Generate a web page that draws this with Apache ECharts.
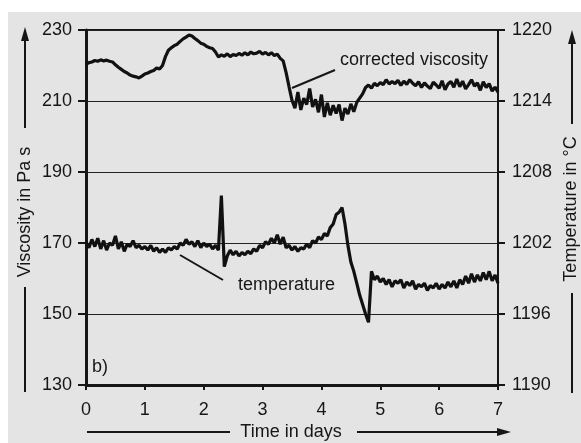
<!DOCTYPE html>
<html>
<head>
<meta charset="utf-8">
<script src="https://cdn.jsdelivr.net/npm/echarts@6/dist/echarts.min.js"></script>
<style>
html,body{margin:0;padding:0;background:#fff;}
#bg{position:absolute;left:8px;top:12px;width:573px;height:431px;background:#e4e4e4;}
#chart{position:absolute;left:0;top:0;width:581px;height:443px;}
</style>
</head>
<body>
<div id="bg"></div>
<div id="chart"></div>
<script>
// ---- data ----
var timeStep = 0.05; // days between readings
var viscosity = [
220.3,220.8,221.0,221.4,221.2,221.6,221.3,221.5,221.2,221.0,
220.2,219.5,218.9,218.3,217.9,217.3,217.0,216.8,216.5,217.0,
217.6,217.9,218.3,218.6,219.3,219.0,220.0,222.5,224.3,225.0,
225.6,226.0,226.8,227.5,228.0,228.6,228.3,227.6,227.0,226.3,
226.0,225.4,225.0,224.8,223.8,222.4,223.0,222.6,223.3,222.5,
223.1,222.8,223.4,222.9,223.6,223.0,223.8,223.3,223.5,224.0,
223.2,223.7,223.0,223.6,222.8,223.2,222.0,221.3,218.0,214.0,
210.2,208.0,212.5,207.5,210.8,209.0,213.5,208.3,210.5,206.8,
211.8,205.5,209.5,206.0,208.8,206.5,209.0,204.5,208.0,206.3,
209.2,207.0,209.6,210.8,212.0,213.8,214.5,213.6,215.0,214.3,
215.2,214.6,216.0,214.8,215.5,214.9,215.8,214.4,215.6,214.7,
216.0,215.0,214.3,215.4,213.8,215.1,214.2,213.5,215.3,214.5,
213.6,215.7,213.2,214.8,215.5,213.9,216.2,214.0,215.6,213.4,
214.6,216.0,214.2,215.1,213.0,215.4,213.8,214.9,212.8,213.9,
212.5
];
var temperature = [
1202.1,1201.6,1202.3,1201.7,1202.4,1201.5,1202.2,1201.4,1202.0,1201.8,
1202.6,1201.5,1202.1,1201.3,1201.9,1201.7,1202.2,1201.6,1201.8,1201.5,
1201.7,1201.4,1201.8,1201.3,1201.6,1201.2,1201.5,1201.2,1201.6,1201.4,
1201.7,1201.5,1202.0,1201.8,1202.3,1201.9,1202.1,1201.7,1202.2,1201.6,
1202.0,1201.7,1201.9,1201.5,1201.8,1201.4,1206.0,1200.0,1200.9,1201.4,
1201.0,1201.3,1200.9,1201.2,1201.0,1201.3,1201.1,1201.5,1201.3,1201.8,
1201.6,1202.1,1201.9,1202.4,1202.0,1202.7,1201.9,1202.5,1201.6,1201.8,
1201.4,1201.7,1201.3,1201.6,1201.5,1201.9,1201.6,1202.2,1202.0,1202.5,
1202.3,1202.8,1202.6,1203.3,1203.6,1204.4,1204.6,1205.0,1203.6,1201.8,
1200.4,1199.6,1198.6,1197.6,1196.8,1196.0,1195.3,1199.6,1198.9,1199.2,
1198.7,1199.0,1198.5,1198.9,1198.3,1198.8,1198.6,1198.9,1198.2,1198.7,
1198.4,1198.8,1198.1,1198.5,1198.3,1198.6,1198.0,1198.4,1198.2,1198.6,
1198.1,1198.5,1198.2,1198.7,1198.3,1198.8,1198.2,1198.9,1198.5,1199.2,
1198.6,1199.4,1198.7,1199.3,1198.8,1199.5,1198.9,1199.6,1198.8,1199.3,
1198.6
];
var xTicks = [0,1,2,3,4,5,6,7];
var viscTicks = [130,150,170,190,210,230];
var tempTicks = [1190,1196,1202,1208,1214,1220];

// ---- build ----
function pairs(arr){ return arr.map(function(v,i){ return [+(i*timeStep).toFixed(2), v]; }); }
var FONT = '"Liberation Sans", Arial, sans-serif';
var INK = '#161616';
var chart = echarts.init(document.getElementById('chart'), null, {renderer:'canvas'});
var lbl = {color: INK, fontSize: 18, fontFamily: FONT, formatter: function(v){ return String(v); }};

function vLine(x,y1,y2){return {type:'line',shape:{x1:x,y1:y1,x2:x,y2:y2},style:{stroke:INK,lineWidth:2},silent:true};}
function hLine(x1,x2,y){return {type:'line',shape:{x1:x1,y1:y,x2:x2,y2:y},style:{stroke:INK,lineWidth:2},silent:true};}
function poly(pts){return {type:'polygon',shape:{points:pts},style:{fill:INK},silent:true};}
function txt(x,y,t,opt){
  var o = {type:'text',x:x,y:y,style:{text:t,fill:INK,font:'18px '+FONT,textAlign:'left',textVerticalAlign:'middle'},silent:true};
  if(opt) for(var k in opt) o[k]=opt[k];
  return o;
}

chart.setOption({
  backgroundColor: 'transparent',
  animation: false,
  grid: {left: 86, right: 83, top: 30, bottom: 58, show: true, borderColor: INK, borderWidth: 2, backgroundColor: 'transparent'},
  xAxis: {
    type: 'value', min: xTicks[0], max: xTicks[xTicks.length-1], interval: 1,
    axisLine: {show: true, lineStyle: {color: INK, width: 3}},
    axisTick: {show: true, inside: false, length: 5, lineStyle: {color: INK, width: 2}},
    axisLabel: Object.assign({margin: 16}, lbl),
    splitLine: {show: false}
  },
  yAxis: [{
    type: 'value', min: viscTicks[0], max: viscTicks[viscTicks.length-1], interval: 20,
    axisLine: {show: true, lineStyle: {color: INK, width: 3}},
    axisTick: {show: true, inside: false, length: 8, lineStyle: {color: INK, width: 2}},
    axisLabel: Object.assign({margin: 14}, lbl),
    splitLine: {show: true, lineStyle: {color: '#222', width: 1}}
  },{
    type: 'value', min: tempTicks[0], max: tempTicks[tempTicks.length-1], interval: 6,
    position: 'right',
    axisLine: {show: true, lineStyle: {color: INK, width: 2}},
    axisTick: {show: true, inside: false, length: 7, lineStyle: {color: INK, width: 2}},
    axisLabel: Object.assign({margin: 14}, lbl),
    splitLine: {show: false}
  }],
  series: [{
    name: 'corrected viscosity', type: 'line', yAxisIndex: 0,
    data: pairs(viscosity), showSymbol: false, smooth: false,
    lineStyle: {color: '#111', width: 3.2}, z: 3
  },{
    name: 'temperature', type: 'line', yAxisIndex: 1,
    data: pairs(temperature), showSymbol: false, smooth: false,
    lineStyle: {color: '#111', width: 3.2}, z: 3
  }],
  graphic: [
    // left axis title with arrow
    vLine(25,128,38), poly([[25,27],[21,41],[29,41]]), vLine(25,287,392),
    txt(25,212,'Viscosity in Pa s',{rotation:Math.PI/2, style:{text:'Viscosity in Pa s',fill:INK,font:'18px '+FONT,textAlign:'center',textVerticalAlign:'middle'}}),
    // right axis title with arrow
    vLine(572,124,41), poly([[572,30],[568,44],[576,44]]), vLine(572,293,393),
    txt(571,209,'Temperature in °C',{rotation:Math.PI/2, style:{text:'Temperature in °C',fill:INK,font:'18px '+FONT,textAlign:'center',textVerticalAlign:'middle'}}),
    // bottom axis title with arrow
    hLine(87,230,432), hLine(357,498,432), poly([[511,432],[497,428],[497,436]]),
    txt(291,432,'Time in days',{style:{text:'Time in days',fill:INK,font:'18px '+FONT,textAlign:'center',textVerticalAlign:'middle'}}),
    // annotations
    txt(340,60,'corrected viscosity'),
    {type:'line',shape:{x1:335,y1:70,x2:292,y2:88},style:{stroke:INK,lineWidth:2},silent:true},
    txt(238,285,'temperature'),
    {type:'line',shape:{x1:180,y1:255,x2:223,y2:280},style:{stroke:INK,lineWidth:2},silent:true},
    txt(92,367,'b)')
  ]
});
</script>
</body>
</html>
